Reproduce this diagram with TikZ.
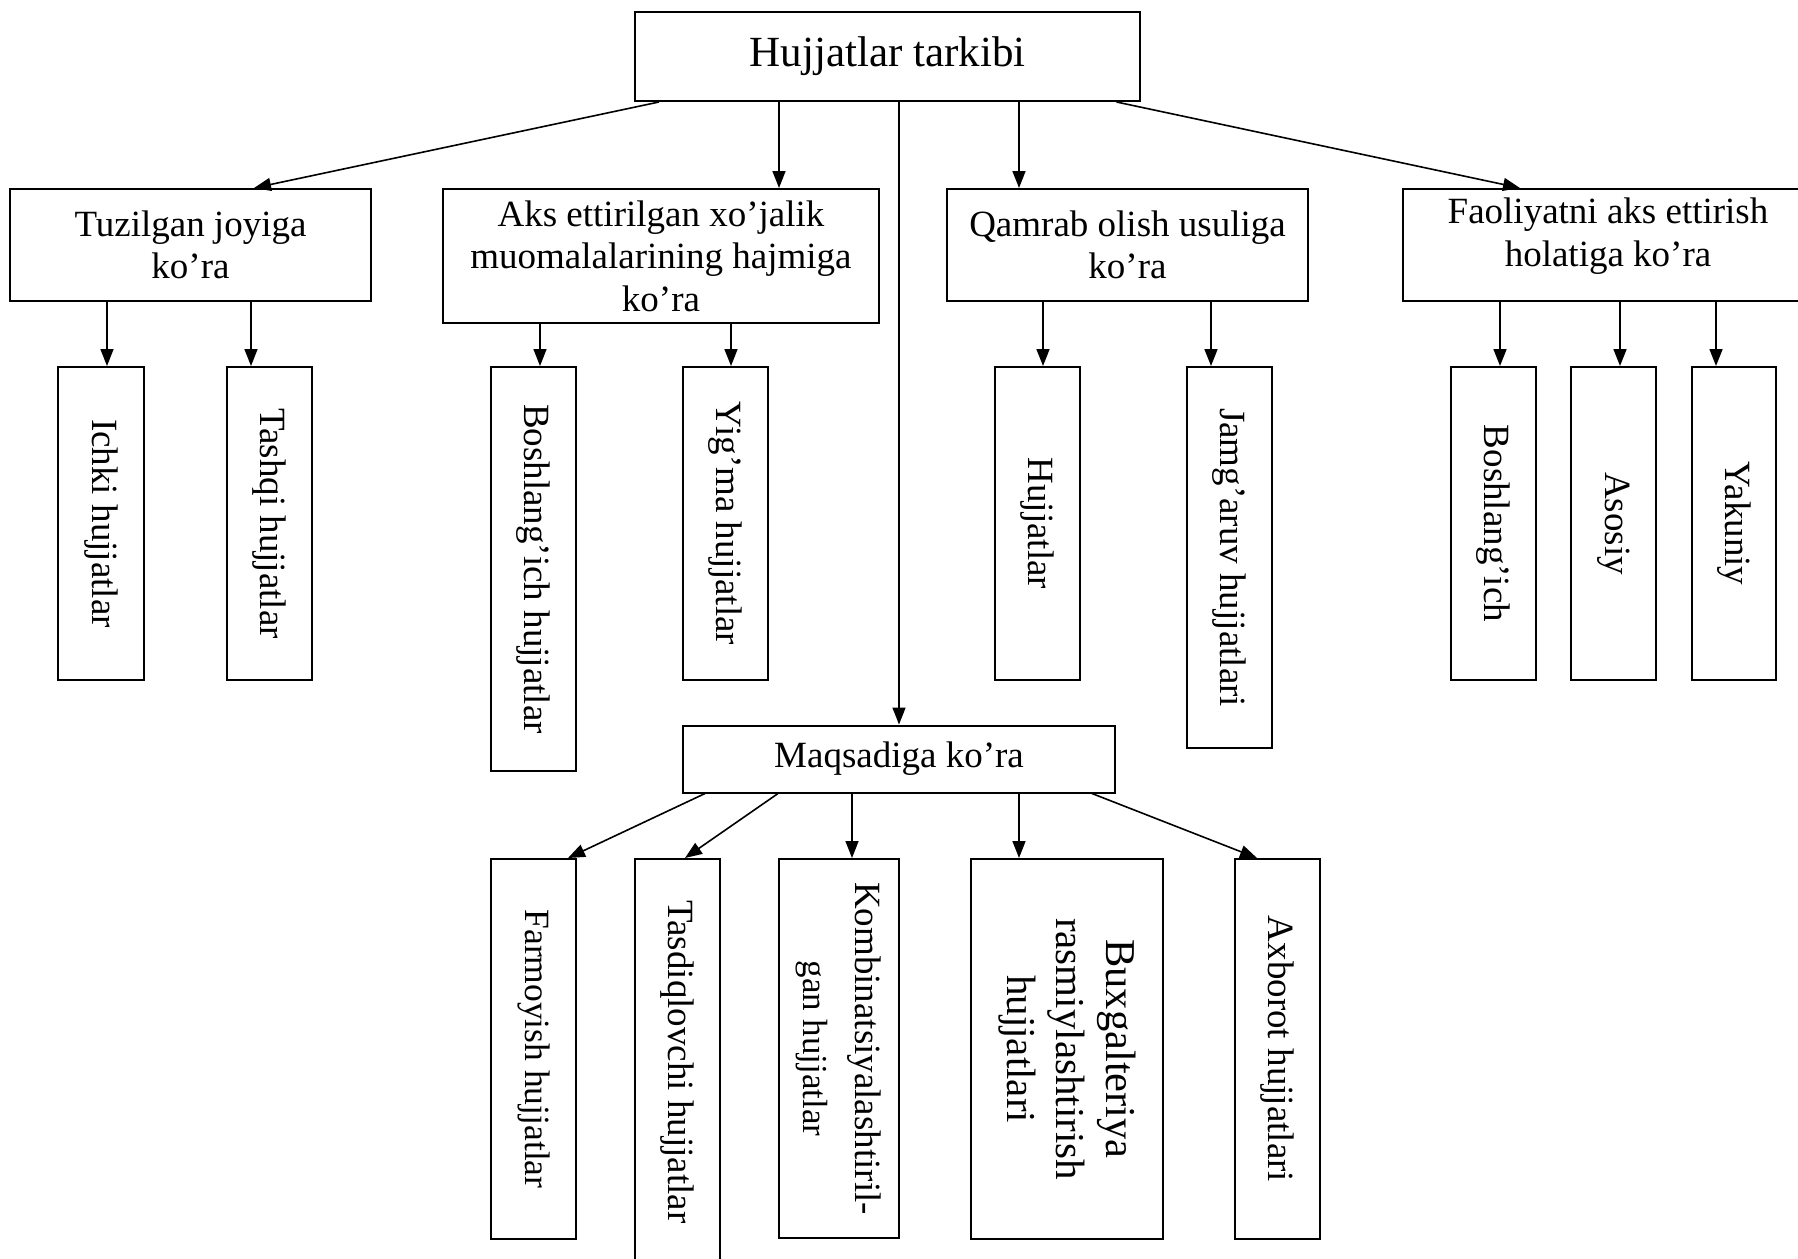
\documentclass[tikz,border=0pt]{standalone}
\usepackage{fontspec}
\setmainfont{Liberation Serif}
\usetikzlibrary{arrows.meta}
\begin{document}
\begin{tikzpicture}[x=1pt,y=-1pt,
  box/.style={draw, line width=2pt, inner sep=0pt, align=center,
    font=\fontsize{37}{42.5}\selectfont},
  htext/.style={inner sep=0pt, align=center, font=\fontsize{37}{42.5}\selectfont},
  vtext/.style={rotate=-90, inner sep=0pt, align=center,
    font=\fontsize{37}{42.5}\selectfont},
  arr/.style={-{Triangle[length=17pt,width=13pt]}, line width=1.6pt},
]
\useasboundingbox (0,0) rectangle (1798,1258);
\fill[white] (0,0) rectangle (1798,1258);
\clip (0,0) rectangle (1798,1258);

% top
\node[box, minimum width=505, minimum height=89, font=\fontsize{43}{50}\selectfont]
  (top) at (887.5,56.5) {Hujjatlar tarkibi};

% second level
\node[box, minimum width=361, minimum height=112] (tuz) at (190.5,245)
  {Tuzilgan joyiga\\ko’ra};
\node[box, minimum width=436, minimum height=134] (aks) at (661,256)
  {Aks ettirilgan xo’jalik\\muomalalarining hajmiga\\ko’ra};
\node[box, minimum width=361, minimum height=112] (qam) at (1127.5,245)
  {Qamrab olish usuliga\\ko’ra};
\node[box, minimum width=410, minimum height=112] (fao) at (1608,245) {};
\node[htext] (faot) at ([yshift=9pt]fao.center)
  {Faoliyatni aks ettirish\\holatiga ko’ra};

% leaves of second level
\node[box, minimum width=86, minimum height=313] (ichki) at (101,523.5) {};
\node[vtext] (ichkit) at (ichki.center) {Ichki hujjatlar};
\node[box, minimum width=85, minimum height=313] (tashqi) at (269.5,523.5) {};
\node[vtext] (tashqit) at (tashqi.center) {Tashqi hujjatlar};
\node[box, minimum width=85, minimum height=404] (bosh1) at (533.5,569) {};
\node[vtext] (bosh1t) at (bosh1.center) {Boshlang’ich hujjatlar};
\node[box, minimum width=85, minimum height=313] (yigma) at (725.5,523.5) {};
\node[vtext] (yigmat) at (yigma.center) {Yig’ma hujjatlar};
\node[box, minimum width=85, minimum height=313] (huj) at (1037.5,523.5) {};
\node[vtext] (hujt) at (huj.center) {Hujjatlar};
\node[box, minimum width=85, minimum height=381] (jamg) at (1229.5,557.5) {};
\node[vtext] (jamgt) at (jamg.center) {Jamg’aruv hujjatlari};
\node[box, minimum width=85, minimum height=313] (bosh2) at (1493.5,523.5) {};
\node[vtext] (bosh2t) at (bosh2.center) {Boshlang’ich};
\node[box, minimum width=85, minimum height=313] (asosiy) at (1613.5,523.5) {};
\node[vtext] (asosiyt) at (asosiy.center) {Asosiy};
\node[box, minimum width=84, minimum height=313] (yakuniy) at (1734,523.5) {};
\node[vtext] (yakuniyt) at (yakuniy.center) {Yakuniy};

% Maqsadiga
\node[box, minimum width=432, minimum height=67] (maq) at (899,759) {Maqsadiga ko’ra};

\node[box, minimum width=85, minimum height=380] (farm) at (533.5,1049) {};
\node[vtext, font=\fontsize{35.5}{42}\selectfont] (farmt) at (farm.center) {Farmoyish hujjatlar};
\node[box, minimum width=85, minimum height=406] (tasd) at (677.5,1062) {};
\node[vtext] (tasdt) at (tasd.center) {Tasdiqlovchi hujjatlar};
\node[box, minimum width=120, minimum height=379] (komb) at (839,1048.5) {};
\node[vtext, font=\fontsize{37}{52}\selectfont] (kombt) at (komb.center)
  {Kombinatsiyalashtiril-\\{\fontsize{35}{52}\selectfont gan hujjatlar}};
\node[box, minimum width=192, minimum height=380] (bux) at (1067,1049) {};
\node[vtext, font=\fontsize{41}{49.5}\selectfont] (buxt) at (bux.center)
  {{\fontsize{42.5}{49.5}\selectfont Buxgalteriya}\\rasmiylashtirish\\hujjatlari};
\node[box, minimum width=85, minimum height=380] (axb) at (1277.5,1049) {};
\node[vtext] (axbt) at (axb.center) {Axborot hujjatlari};

% connectors from top
\draw[arr] ([xshift=25pt]top.south west) -- ([xshift=63.5pt]tuz.north);
\draw[arr] ([xshift=-108.5pt]top.south) -- ([xshift=118pt]aks.north);
\draw[arr] ([xshift=11.5pt]top.south) -- (maq.north);
\draw[arr] ([xshift=131.5pt]top.south) -- ([xshift=-108.5pt]qam.north);
\draw[arr] ([xshift=229pt]top.south) -- ([xshift=-88pt]fao.north);

% second level connectors
\draw[arr] ([xshift=-83.5pt]tuz.south) -- ([xshift=6pt]ichki.north);
\draw[arr] ([xshift=60.5pt]tuz.south) -- ([xshift=-18.5pt]tashqi.north);
\draw[arr] ([xshift=-121pt]aks.south) -- ([xshift=6.5pt]bosh1.north);
\draw[arr] ([xshift=70pt]aks.south) -- ([xshift=5.5pt]yigma.north);
\draw[arr] ([xshift=-84.5pt]qam.south) -- ([xshift=5.5pt]huj.north);
\draw[arr] ([xshift=83.5pt]qam.south) -- ([xshift=-18.5pt]jamg.north);
\draw[arr] ([xshift=-108pt]fao.south) -- ([xshift=6.5pt]bosh2.north);
\draw[arr] ([xshift=12pt]fao.south) -- ([xshift=6.5pt]asosiy.north);
\draw[arr] ([xshift=108pt]fao.south) -- ([xshift=-18pt]yakuniy.north);

% Maqsadiga connectors
\draw[arr] ([xshift=-194pt]maq.south) -- ([xshift=34.5pt]farm.north);
\draw[arr] ([xshift=-121pt]maq.south) -- ([xshift=7.5pt]tasd.north);
\draw[arr] ([xshift=-47pt]maq.south) -- ([xshift=13pt]komb.north);
\draw[arr] ([xshift=120pt]maq.south) -- ([xshift=-48pt]bux.north);
\draw[arr] ([xshift=193pt]maq.south) -- ([xshift=-20.5pt]axb.north);
\end{tikzpicture}
\end{document}
